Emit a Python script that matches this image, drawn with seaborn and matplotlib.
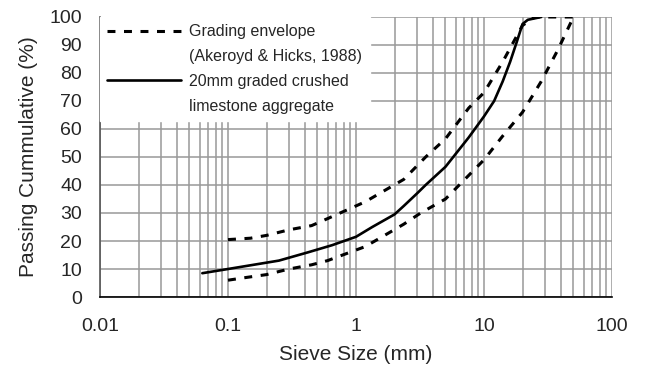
import numpy as np
import pandas as pd
import matplotlib
matplotlib.use("Agg")
import matplotlib.pyplot as plt
from matplotlib.lines import Line2D
from matplotlib.ticker import LogLocator, FixedLocator, FixedFormatter, NullFormatter
import seaborn as sns

# ---- data ----
upper_size = [0.1, 0.15, 0.2, 0.3, 0.45, 0.6, 1.18, 2.36, 3.5, 5.0, 7.6, 10.0, 14.0, 20.0, 25.0, 50.0]
upper_pass = [20.5, 21.0, 22.0, 24.0, 25.5, 28.0, 34.0, 42.0, 50.0, 56.5, 67.5, 73.0, 84.0, 97.0, 100.0, 100.0]

lower_size = [0.1, 0.14, 0.2, 0.3, 0.45, 0.6, 1.18, 1.6, 2.36, 3.2, 5.0, 10.0, 14.0, 20.0, 28.0, 37.5, 50.0]
lower_pass = [6.0, 7.0, 8.0, 10.0, 11.5, 13.0, 18.0, 21.5, 26.0, 30.0, 35.0, 49.0, 57.5, 66.0, 77.0, 88.0, 100.0]

agg_size = [0.063, 0.1, 0.25, 0.425, 0.65, 1.0, 1.34, 2.0, 2.36, 3.0, 3.5, 5.0, 7.6, 10.0, 12.0, 14.0, 16.0, 18.0, 20.0, 22.0, 28.0]
agg_pass = [8.5, 10.0, 13.0, 16.0, 18.5, 21.5, 25.0, 29.5, 32.5, 37.0, 40.0, 46.5, 57.0, 64.5, 70.0, 77.0, 84.0, 91.0, 97.5, 99.0, 100.0]

x_ticks = [0.01, 0.1, 1, 10, 100]
x_tick_labels = ["0.01", "0.1", "1", "10", "100"]
y_ticks = list(range(0, 101, 10))

legend_labels = ["Grading envelope", "(Akeroyd & Hicks, 1988)",
                 "20mm graded crushed", "limestone aggregate"]

# ---- style ----
sns.set_style("white")
plt.rcParams["font.family"] = ["Liberation Sans", "DejaVu Sans"]

fig = plt.figure(figsize=(6.45, 3.67), dpi=100)
ax = fig.add_axes([100 / 645, 70 / 367, 512 / 645, 280 / 367])

upper_df = pd.DataFrame({"size": upper_size, "passing": upper_pass})
lower_df = pd.DataFrame({"size": lower_size, "passing": lower_pass})
agg_df = pd.DataFrame({"size": agg_size, "passing": agg_pass})

dash = (0, (2.6, 2.8))
sns.lineplot(data=upper_df, x="size", y="passing", ax=ax, color="black",
             lw=2.2, linestyle=dash, sort=False, estimator=None, zorder=3)
sns.lineplot(data=lower_df, x="size", y="passing", ax=ax, color="black",
             lw=2.2, linestyle=dash, sort=False, estimator=None, zorder=3)
sns.lineplot(data=agg_df, x="size", y="passing", ax=ax, color="black",
             lw=1.9, sort=False, estimator=None, zorder=3)
for ln in ax.get_lines():
    ln.set_dash_capstyle("butt")

ax.set_xscale("log")
ax.set_xlim(0.01, 100)
ax.set_ylim(0, 100)
ax.xaxis.set_major_locator(FixedLocator(x_ticks))
ax.xaxis.set_major_formatter(FixedFormatter(x_tick_labels))
ax.xaxis.set_minor_locator(LogLocator(base=10, subs=np.arange(2, 10)))
ax.xaxis.set_minor_formatter(NullFormatter())
ax.set_yticks(y_ticks)

ax.grid(True, which="major", axis="both", color="#999999", lw=1.1)
ax.grid(True, which="minor", axis="x", color="#999999", lw=1.1)
ax.set_axisbelow(True)

for s in ["top", "right"]:
    ax.spines[s].set_visible(False)
ax.spines["left"].set_color("#555555")
ax.spines["left"].set_linewidth(1.2)
ax.spines["bottom"].set_color("black")
ax.spines["bottom"].set_linewidth(1.2)

ax.tick_params(axis="x", which="major", direction="out", length=4, width=1,
               color="black", pad=11, labelsize=14)
ax.tick_params(axis="x", which="minor", length=0)
ax.tick_params(axis="y", length=0, pad=13, labelsize=14)

ax.set_xlabel("Sieve Size (mm)", fontsize=15, labelpad=7)
ax.set_ylabel("Passing Cummulative (%)", fontsize=15, labelpad=8)

# legend: first lines carry the handle, second lines have blank handles
handles = [Line2D([], [], color="black", lw=2.2, linestyle=dash, dash_capstyle="butt"),
           Line2D([], [], color="none"),
           Line2D([], [], color="black", lw=1.9),
           Line2D([], [], color="none")]
leg = ax.legend(handles, legend_labels, loc="upper left", bbox_to_anchor=(0.0, 1.0),
                frameon=True, fancybox=False, framealpha=1, edgecolor="white",
                facecolor="white", fontsize=11.5, handlelength=4.6, handletextpad=0.55,
                labelspacing=0.62, borderaxespad=0.0, borderpad=0.45)
leg.set_zorder(5)

fig.savefig("out.png", dpi=100)
